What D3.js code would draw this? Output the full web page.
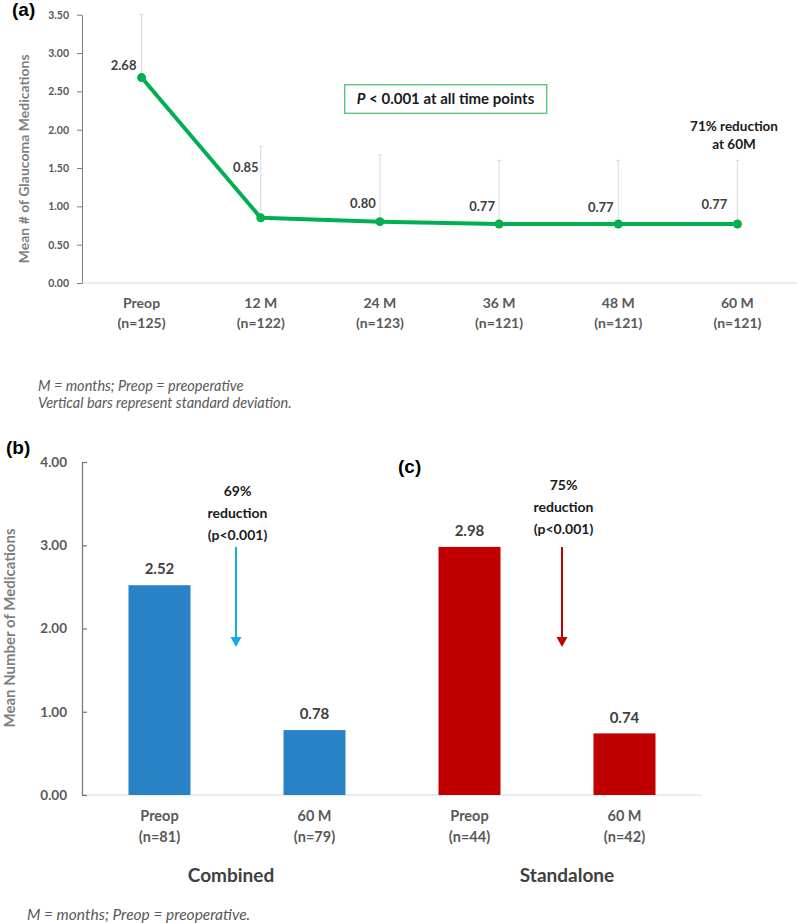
<!DOCTYPE html>
<html>
<head>
<meta charset="utf-8">
<script src="https://cdn.jsdelivr.net/npm/d3@7"></script>
<style>
  html, body { margin: 0; padding: 0; background: #ffffff; }
  svg { display: block; }
  text { font-family: Lato, "Open Sans", sans-serif; }
</style>
</head>
<body>
<svg id="chart" width="797" height="923"></svg>
<script>
// ---------- Data: panel (a) ----------
const catsA = ["Preop", "12 M", "24 M", "36 M", "48 M", "60 M"];
const nA = ["(n=125)", "(n=122)", "(n=123)", "(n=121)", "(n=121)", "(n=121)"];
const meanA = [2.68, 0.85, 0.80, 0.77, 0.77, 0.77];
const sdA = [0.90, 0.93, 0.87, 0.83, 0.83, 0.83];
const ticksA = [0, 0.5, 1.0, 1.5, 2.0, 2.5, 3.0, 3.5];

// ---------- Data: panels (b) and (c) ----------
const catsB = ["Preop", "60 M", "Preop", "60 M"];
const nB = ["(n=81)", "(n=79)", "(n=44)", "(n=42)"];
const groupB = ["Combined", "Combined", "Standalone", "Standalone"];
const meanB = [2.52, 0.78, 2.98, 0.74];
const ticksB = [0, 1, 2, 3, 4];
const reductionB = ["69%", "75%"];

const svg = d3.select("#chart");
const fmt = d3.format(".2f");

// ================= Panel (a) =================
const xA = d3.scaleBand().domain(d3.range(catsA.length)).range([82, 797]).padding(0);
const yA = d3.scaleLinear().domain([0, 3.5]).range([283, 14.7]);
const cxA = i => xA(i) + xA.bandwidth() / 2;

const gA = svg.append("g");

// baseline gridline
gA.append("line")
  .attr("x1", 82).attr("x2", 797)
  .attr("y1", yA(0)).attr("y2", yA(0))
  .attr("stroke", "#d9d9d9").attr("stroke-width", 1);

// y axis
const axA = gA.append("g").attr("transform", "translate(82,0)")
  .call(d3.axisLeft(yA).tickValues(ticksA).tickFormat(fmt).tickSize(5).tickSizeOuter(0).tickPadding(8));
axA.select(".domain").attr("stroke", "#7f7f7f");
axA.selectAll(".tick line").attr("stroke", "#7f7f7f");
axA.selectAll(".tick text")
  .attr("fill", "#595959").style("font-family", "Lato").style("font-weight", "bold").style("font-size", "10.5px");

// y title
gA.append("text")
  .attr("transform", `translate(24,${(yA(0.0) + yA(3.5)) / 2 + 10}) rotate(-90)`)
  .attr("text-anchor", "middle").attr("dy", "0.35em")
  .attr("fill", "#7f7f7f").style("font-weight", "bold").style("font-size", "14px")
  .text("Mean # of Glaucoma Medications");

// error bars (upper SD), clipped at axis max
const ebA = gA.append("g");
meanA.forEach((m, i) => {
  const top = Math.min(m + sdA[i], yA.domain()[1]);
  ebA.append("line")
    .attr("x1", cxA(i)).attr("x2", cxA(i))
    .attr("y1", yA(m)).attr("y2", yA(top))
    .attr("stroke", "#d9d9d9").attr("stroke-width", 1);
  ebA.append("line")
    .attr("x1", cxA(i) - 2).attr("x2", cxA(i) + 2)
    .attr("y1", yA(top)).attr("y2", yA(top))
    .attr("stroke", "#d9d9d9").attr("stroke-width", 1);
});

// line
const lineA = d3.line().x((d, i) => cxA(i)).y(d => yA(d));
gA.append("path").datum(meanA)
  .attr("d", lineA)
  .attr("fill", "none").attr("stroke", "#00b050")
  .attr("stroke-width", 4).attr("stroke-linejoin", "round");

gA.selectAll("circle.pt").data(meanA).join("circle")
  .attr("class", "pt")
  .attr("cx", (d, i) => cxA(i)).attr("cy", d => yA(d))
  .attr("r", 4.5).attr("fill", "#00b050");

// data labels (manually nudged as in the original)
const labelNudgeA = [[-18, -12], [-15, -50], [-17, -18], [-17, -18], [-17.5, -17], [-23, -20]];
gA.selectAll("text.dl").data(meanA).join("text")
  .attr("class", "dl")
  .attr("x", (d, i) => cxA(i) + labelNudgeA[i][0])
  .attr("y", (d, i) => yA(d) + labelNudgeA[i][1])
  .attr("dy", "0.35em").attr("text-anchor", "middle")
  .attr("fill", "#404040").style("font-weight", "bold").style("font-size", "13px")
  .text(d => fmt(d));

// x category labels
catsA.forEach((c, i) => {
  gA.append("text")
    .attr("x", cxA(i)).attr("y", 303).attr("dy", "0.35em")
    .attr("text-anchor", "middle").attr("fill", "#595959")
    .style("font-weight", "bold").style("font-size", "14px")
    .text(c);
  gA.append("text")
    .attr("x", cxA(i)).attr("y", 323).attr("dy", "0.35em")
    .attr("text-anchor", "middle").attr("fill", "#595959")
    .style("font-weight", "bold").style("font-size", "14px")
    .text(nA[i]);
});

// p-value box
gA.append("rect")
  .attr("x", 344.7).attr("y", 84.7).attr("width", 202).attr("height", 28.6)
  .attr("fill", "#ffffff").attr("stroke", "#4fc47a").attr("stroke-width", 1.3);
const pt = gA.append("text")
  .attr("x", 445.5).attr("y", 99).attr("dy", "0.35em").attr("text-anchor", "middle")
  .attr("fill", "#1a1a1a").style("font-weight", "bold").style("font-size", "15px");
pt.append("tspan").style("font-style", "italic").text("P");
pt.append("tspan").text(" < 0.001 at all time points");

// reduction note
gA.append("text")
  .attr("x", 734).attr("y", 126).attr("dy", "0.35em").attr("text-anchor", "middle")
  .attr("fill", "#1a1a1a").style("font-weight", "bold").style("font-size", "13.5px")
  .text("71% reduction");
gA.append("text")
  .attr("x", 734).attr("y", 144).attr("dy", "0.35em").attr("text-anchor", "middle")
  .attr("fill", "#1a1a1a").style("font-weight", "bold").style("font-size", "13.5px")
  .text("at 60M");

// panel tag
svg.append("text").attr("x", 12).attr("y", 16)
  .style("font-family", "'Liberation Sans', Arial, sans-serif")
  .style("font-weight", "bold").style("font-size", "19px").attr("fill", "#000")
  .text("(a)");

// footnotes (a)
svg.append("text").attr("x", 38).attr("y", 386).attr("dy", "0.35em")
  .attr("fill", "#595959").style("font-style", "italic").style("font-size", "14.5px")
  .text("M = months; Preop = preoperative");
svg.append("text").attr("x", 38).attr("y", 403).attr("dy", "0.35em")
  .attr("fill", "#595959").style("font-style", "italic").style("font-size", "14.5px")
  .text("Vertical bars represent standard deviation.");

// ================= Panels (b) & (c) =================
const xB = d3.scaleBand().domain(d3.range(catsB.length)).range([82, 702])
  .paddingInner(0.6).paddingOuter(0.3);
const yB = d3.scaleLinear().domain([0, 4]).range([795, 462]);
const cxB = i => xB(i) + xB.bandwidth() / 2;
const colorB = d3.scaleOrdinal().domain(["Combined", "Standalone"]).range(["#2a82c6", "#c00000"]);
const arrowColor = d3.scaleOrdinal().domain(["Combined", "Standalone"]).range(["#14aee6", "#c00000"]);

const gB = svg.append("g");

gB.append("line")
  .attr("x1", 82).attr("x2", 702)
  .attr("y1", yB(0)).attr("y2", yB(0))
  .attr("stroke", "#d9d9d9").attr("stroke-width", 1.2);

const axB = gB.append("g").attr("transform", "translate(82,0)")
  .call(d3.axisLeft(yB).tickValues(ticksB).tickFormat(fmt).tickSize(-5).tickSizeOuter(0).tickPadding(15));
axB.select(".domain").attr("stroke", "#737373").attr("stroke-width", 1.2);
axB.selectAll(".tick line").attr("stroke", "#737373").attr("stroke-width", 1.2);
axB.selectAll(".tick text")
  .attr("fill", "#595959").style("font-family", "Lato").style("font-weight", "bold").style("font-size", "13.5px");

gB.append("text")
  .attr("transform", `translate(10,${628}) rotate(-90)`)
  .attr("text-anchor", "middle").attr("dy", "0.35em")
  .attr("fill", "#7f7f7f").style("font-weight", "bold").style("font-size", "15px")
  .text("Mean Number of Medications");

gB.selectAll("rect.bar").data(meanB).join("rect")
  .attr("class", "bar")
  .attr("x", (d, i) => xB(i)).attr("width", xB.bandwidth())
  .attr("y", d => yB(d)).attr("height", d => yB(0) - yB(d))
  .attr("fill", (d, i) => colorB(groupB[i]));

gB.selectAll("text.bl").data(meanB).join("text")
  .attr("class", "bl")
  .attr("x", (d, i) => cxB(i)).attr("y", d => yB(d) - 16).attr("dy", "0.35em")
  .attr("text-anchor", "middle").attr("fill", "#404040")
  .style("font-weight", "bold").style("font-size", "15px")
  .text(d => fmt(d));

catsB.forEach((c, i) => {
  gB.append("text")
    .attr("x", cxB(i)).attr("y", 816).attr("dy", "0.35em")
    .attr("text-anchor", "middle").attr("fill", "#595959")
    .style("font-weight", "bold").style("font-size", "14.5px")
    .text(c);
  gB.append("text")
    .attr("x", cxB(i)).attr("y", 837).attr("dy", "0.35em")
    .attr("text-anchor", "middle").attr("fill", "#595959")
    .style("font-weight", "bold").style("font-size", "14.5px")
    .text(nB[i]);
});

// group labels
const groups = ["Combined", "Standalone"];
const groupShift = [-6, 20];
groups.forEach((g, k) => {
  const idx = d3.range(catsB.length).filter(i => groupB[i] === g);
  const cx = d3.mean(idx, cxB) + groupShift[k];
  gB.append("text")
    .attr("x", cx).attr("y", 875).attr("dy", "0.35em")
    .attr("text-anchor", "middle").attr("fill", "#404040")
    .style("font-weight", "bold").style("font-size", "19px")
    .text(g);
});

// arrows and reduction annotations
const arrowShift = [-1, 15];
const textTop = [491, 485];
groups.forEach((g, k) => {
  const idx = d3.range(catsB.length).filter(i => groupB[i] === g);
  const ax = d3.mean(idx, cxB) + arrowShift[k];
  const yTop = 547, yTip = 647;
  const col = arrowColor(g);
  gB.append("line")
    .attr("x1", ax).attr("x2", ax).attr("y1", yTop).attr("y2", yTip - 9)
    .attr("stroke", col).attr("stroke-width", 2);
  gB.append("path")
    .attr("d", `M${ax - 5.5},${yTip - 10} L${ax + 5.5},${yTip - 10} L${ax},${yTip} Z`)
    .attr("fill", col);
  const lines = [reductionB[k], "reduction", "(p<0.001)"];
  lines.forEach((t, j) => {
    gB.append("text")
      .attr("x", ax + 1.5).attr("y", textTop[k] + j * 22).attr("dy", "0.35em")
      .attr("text-anchor", "middle").attr("fill", "#1a1a1a")
      .style("font-weight", "bold").style("font-size", "14px")
      .text(t);
  });
});

// panel tags
svg.append("text").attr("x", 6).attr("y", 454)
  .style("font-family", "'Liberation Sans', Arial, sans-serif")
  .style("font-weight", "bold").style("font-size", "19px").attr("fill", "#000")
  .text("(b)");
svg.append("text").attr("x", 398).attr("y", 473)
  .style("font-family", "'Liberation Sans', Arial, sans-serif")
  .style("font-weight", "bold").style("font-size", "19px").attr("fill", "#000")
  .text("(c)");

// footnote (b/c)
svg.append("text").attr("x", 27).attr("y", 915).attr("dy", "0.35em")
  .attr("fill", "#595959").style("font-style", "italic").style("font-size", "15.5px")
  .text("M = months; Preop = preoperative.");
</script>
</body>
</html>
